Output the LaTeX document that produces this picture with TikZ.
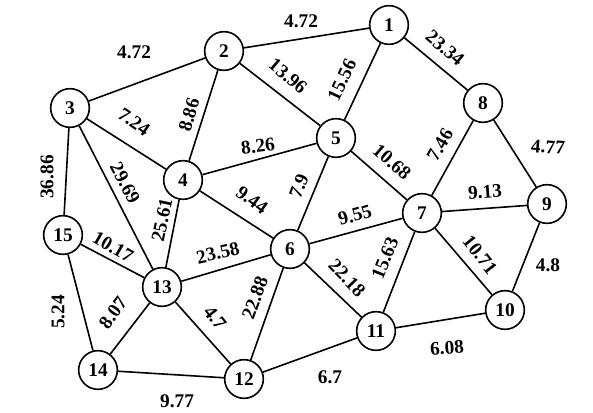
\documentclass[tikz,border=0pt]{standalone}
\usepackage{fontspec}
\setmainfont{Liberation Serif}

\begin{document}
\begin{tikzpicture}[x=0.75pt, y=-0.75pt, font=\fontsize{14.5}{16}\selectfont\bfseries,
    vertex/.style={circle, draw, line width=1.2pt, minimum size=29pt, inner sep=0pt},
    link/.style={line width=1.2pt},
    weight/.style={inner sep=0pt}]
    \useasboundingbox (0,0) rectangle (593,413);
    % vertices
    \node[vertex] (n1) at (389,25) {1};
    \node[vertex] (n2) at (224,51) {2};
    \node[vertex] (n3) at (70,108) {3};
    \node[vertex] (n4) at (183,180) {4};
    \node[vertex] (n5) at (336,138) {5};
    \node[vertex] (n6) at (290,249) {6};
    \node[vertex] (n7) at (422,213) {7};
    \node[vertex] (n8) at (483,103) {8};
    \node[vertex] (n9) at (547,204) {9};
    \node[vertex] (n10) at (505,310) {10};
    \node[vertex] (n11) at (376,331) {11};
    \node[vertex] (n12) at (244,379) {12};
    \node[vertex] (n13) at (162,287) {13};
    \node[vertex] (n14) at (98,370) {14};
    \node[vertex] (n15) at (63,235) {15};
    % links
    \draw[link] (n1) -- (n2);
    \draw[link] (n1) -- (n5);
    \draw[link] (n1) -- (n8);
    \draw[link] (n2) -- (n3);
    \draw[link] (n2) -- (n4);
    \draw[link] (n2) -- (n5);
    \draw[link] (n3) -- (n4);
    \draw[link] (n3) -- (n13);
    \draw[link] (n3) -- (n15);
    \draw[link] (n4) -- (n5);
    \draw[link] (n4) -- (n6);
    \draw[link] (n4) -- (n13);
    \draw[link] (n5) -- (n6);
    \draw[link] (n5) -- (n7);
    \draw[link] (n6) -- (n7);
    \draw[link] (n6) -- (n11);
    \draw[link] (n6) -- (n12);
    \draw[link] (n6) -- (n13);
    \draw[link] (n7) -- (n8);
    \draw[link] (n7) -- (n9);
    \draw[link] (n7) -- (n10);
    \draw[link] (n7) -- (n11);
    \draw[link] (n8) -- (n9);
    \draw[link] (n9) -- (n10);
    \draw[link] (n10) -- (n11);
    \draw[link] (n11) -- (n12);
    \draw[link] (n12) -- (n13);
    \draw[link] (n12) -- (n14);
    \draw[link] (n13) -- (n14);
    \draw[link] (n13) -- (n15);
    \draw[link] (n14) -- (n15);
    % weights
    \node[weight] (w-1-2) at (301,21) {4.72};
    \node[weight, rotate=65] (w-1-5) at (342,80) {15.56};
    \node[weight, rotate=-40] (w-1-8) at (445,48) {23.34};
    \node[weight] (w-2-3) at (134,52) {4.72};
    \node[weight, rotate=74] (w-2-4) at (189,115) {8.86};
    \node[weight, rotate=-40] (w-2-5) at (288,76) {13.96};
    \node[weight, rotate=-35] (w-3-4) at (134,122) {7.24};
    \node[weight, rotate=-62] (w-3-13) at (125,183) {29.69};
    \node[weight, rotate=90] (w-3-15) at (47,177) {36.86};
    \node[weight, rotate=7] (w-4-5) at (258,146) {8.26};
    \node[weight, rotate=-36] (w-4-6) at (252,200) {9.44};
    \node[weight, rotate=78] (w-4-13) at (162,220) {25.61};
    \node[weight, rotate=68] (w-5-6) at (299,186) {7.9};
    \node[weight, rotate=-41] (w-5-7) at (392,162) {10.68};
    \node[weight, rotate=16] (w-6-7) at (355,215) {9.55};
    \node[weight, rotate=-46] (w-6-11) at (347,278) {22.18};
    \node[weight, rotate=70] (w-6-12) at (255,298) {22.88};
    \node[weight, rotate=13] (w-6-13) at (218,253) {23.58};
    \node[weight, rotate=60] (w-7-8) at (440,145) {7.46};
    \node[weight, rotate=4] (w-7-9) at (485,192) {9.13};
    \node[weight, rotate=-52] (w-7-10) at (480,255) {10.71};
    \node[weight, rotate=68] (w-7-11) at (385,258) {15.63};
    \node[weight, rotate=-4] (w-8-9) at (548,147) {4.77};
    \node[weight] (w-9-10) at (548,265) {4.8};
    \node[weight, rotate=4] (w-10-11) at (447,348) {6.08};
    \node[weight] (w-11-12) at (330,377) {6.7};
    \node[weight, rotate=-52] (w-12-13) at (215,318) {4.7};
    \node[weight] (w-12-14) at (177,401) {9.77};
    \node[weight, rotate=54] (w-13-14) at (113,313) {8.07};
    \node[weight, rotate=-30] (w-13-15) at (113,247) {10.17};
    \node[weight, rotate=90] (w-14-15) at (58,312) {5.24};
  \end{tikzpicture}
\end{document}
